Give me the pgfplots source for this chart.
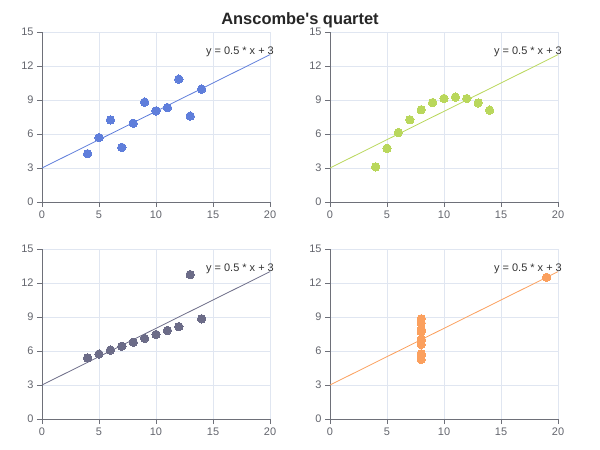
\documentclass[border=0pt]{standalone}
\usepackage{pgfplots}
\pgfplotsset{compat=1.18}
\usepackage{fontspec}
\setmainfont{Liberation Sans}
\definecolor{c1}{HTML}{5F7EDB}
\definecolor{c2}{HTML}{B9D75C}
\definecolor{c3}{HTML}{6C6C88}
\definecolor{c4}{HTML}{FBA05E}
\definecolor{axc}{HTML}{6E7079}
\definecolor{gridc}{HTML}{E0E6F1}
\pgfplotsset{
  quart/.style={
    scale only axis, width=228bp, height=170bp, anchor=south west,
    xmin=0, xmax=20, ymin=0, ymax=15,
    xtick={0,5,10,15,20}, ytick={0,3,6,9,12,15},
    axis x line*=bottom, axis y line*=left,
    axis line style={axc, line width=0.8bp},
    tick align=outside, major tick length=5bp,
    tick style={axc, line width=0.8bp},
    grid=major, major grid style={gridc, line width=0.8bp},
    ticklabel style={font=\fontsize{11}{12}\selectfont, text=axc!90!black},
    /pgf/number format/assume math mode=true,
    clip=false,
  },
  pts/.style={only marks, mark=*, color=#1, mark size=4.2bp, mark options={draw=#1, fill=#1, line width=0pt}},
  fit/.style={#1, line width=0.8bp, no marks},
}
\newcommand{\eqlabel}{\node[anchor=east, font=\fontsize{11}{12}\selectfont, text=black!80, inner sep=0pt] at (axis cs:20,13) [xshift=4bp, yshift=3bp] {y = 0.5 * x + 3};}
\begin{document}
\begin{tikzpicture}
\useasboundingbox (0,0) rectangle (600bp,450bp);
\node[font=\fontsize{16.5}{18}\selectfont\bfseries, text=black!85] at (300bp,430bp) {Anscombe\textquotesingle s quartet};
% I
\begin{axis}[quart, at={(42bp,248bp)}]
\addplot[fit=c1] coordinates {(0,3) (20,13)};
\addplot[pts=c1] coordinates {(10,8.04) (8,6.95) (13,7.58) (9,8.81) (11,8.33) (14,9.96) (6,7.24) (4,4.26) (12,10.84) (7,4.82) (5,5.68)};
\eqlabel
\end{axis}
% II
\begin{axis}[quart, at={(330bp,248bp)}]
\addplot[fit=c2] coordinates {(0,3) (20,13)};
\addplot[pts=c2] coordinates {(10,9.14) (8,8.14) (13,8.74) (9,8.77) (11,9.26) (14,8.10) (6,6.13) (4,3.10) (12,9.13) (7,7.26) (5,4.74)};
\eqlabel
\end{axis}
% III
\begin{axis}[quart, at={(42bp,31bp)}]
\addplot[fit=c3] coordinates {(0,3) (20,13)};
\addplot[pts=c3] coordinates {(10,7.46) (8,6.77) (13,12.74) (9,7.11) (11,7.81) (14,8.84) (6,6.08) (4,5.39) (12,8.15) (7,6.42) (5,5.73)};
\eqlabel
\end{axis}
% IV
\begin{axis}[quart, at={(330bp,31bp)}]
\addplot[fit=c4] coordinates {(0,3) (20,13)};
\addplot[pts=c4] coordinates {(8,6.58) (8,5.76) (8,7.71) (8,8.84) (8,8.47) (8,7.04) (8,5.25) (19,12.50) (8,5.56) (8,7.91) (8,6.89)};
\eqlabel
\end{axis}
\end{tikzpicture}
\end{document}
